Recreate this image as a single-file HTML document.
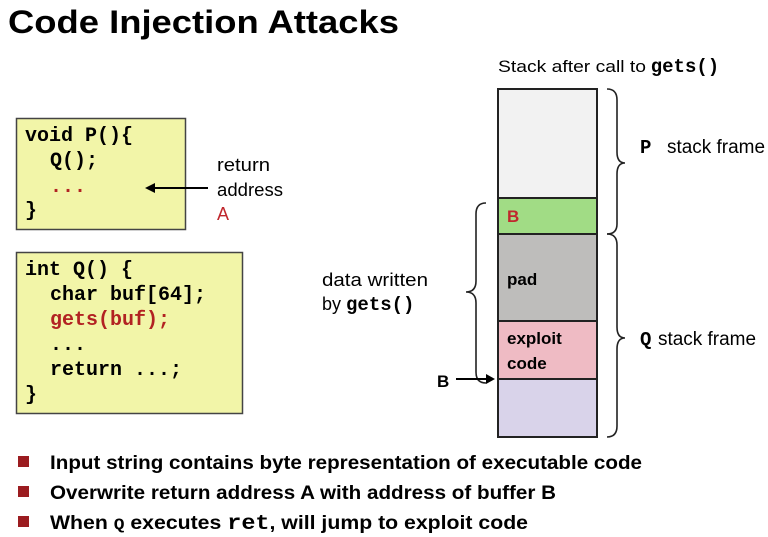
<!DOCTYPE html>
<html><head><meta charset="utf-8"><style>html,body{margin:0;padding:0;background:#fff}svg{display:block}</style></head>
<body>
<svg width="768" height="537" viewBox="0 0 768 537" xmlns="http://www.w3.org/2000/svg" font-family="Liberation Sans, sans-serif">
<text x="8" y="33" font-size="32" font-weight="bold" textLength="391" lengthAdjust="spacingAndGlyphs">Code Injection Attacks</text>

<rect x="16.5" y="118.5" width="169" height="111" fill="#f2f5a8" stroke="#444" stroke-width="1.5"/>
<g font-family="Liberation Mono, monospace" font-weight="bold" font-size="20">
<text x="25" y="141">void P(){</text>
<text x="50" y="166">Q();</text>
<text x="50" y="192" fill="#b22222">...</text>
<text x="25" y="216">}</text>
</g>
<rect x="16.5" y="252.5" width="226" height="161" fill="#f2f5a8" stroke="#444" stroke-width="1.5"/>
<g font-family="Liberation Mono, monospace" font-weight="bold" font-size="20">
<text x="25" y="275">int Q() {</text>
<text x="50" y="300">char buf[64];</text>
<text x="50" y="325" fill="#b22222">gets(buf);</text>
<text x="50" y="350">...</text>
<text x="50" y="375">return ...;</text>
<text x="25" y="400">}</text>
</g>
<line x1="208" y1="188" x2="152" y2="188" stroke="#000" stroke-width="2"/>
<polygon points="145,188 155,183 155,193" fill="#000"/>
<g font-size="18">
<text x="217" y="171" textLength="53" lengthAdjust="spacingAndGlyphs">return</text>
<text x="217" y="196" textLength="66" lengthAdjust="spacingAndGlyphs">address</text>
<text x="217" y="220" fill="#c0272d">A</text>
</g>

<text x="498" y="72" font-size="17"><tspan textLength="148" lengthAdjust="spacingAndGlyphs">Stack after call to</tspan> <tspan font-family="Liberation Mono, monospace" font-weight="bold" font-size="19">gets()</tspan></text>
<g stroke="#222" stroke-width="2">
<rect x="498" y="89" width="99" height="109" fill="#f2f2f2"/>
<rect x="498" y="198" width="99" height="36" fill="#a1dc85"/>
<rect x="498" y="234" width="99" height="87" fill="#bebdbb"/>
<rect x="498" y="321" width="99" height="58" fill="#efbbc4"/>
<rect x="498" y="379" width="99" height="58" fill="#d9d3ea"/>
</g>
<g font-weight="bold" font-size="17">
<text x="507" y="222" fill="#c0272d">B</text>
<text x="507" y="285">pad</text>
<text x="507" y="344">exploit</text>
<text x="507" y="369">code</text>
</g>

<g fill="none" stroke="#222" stroke-width="1.6">
<path d="M607,89 Q617,89 617,100 L617,152 Q617,163 625,163 Q617,163 617,174 L617,224 Q617,234 607,234"/>
<path d="M607,234 Q617,234 617,245 L617,327 Q617,338 625,338 Q617,338 617,349 L617,426 Q617,437 607,437"/>
<path d="M486,203 Q476,203 476,214 L476,281 Q476,292 466,292 Q476,292 476,303 L476,372 Q476,383 486,383"/>
</g>
<text x="640" y="153" font-size="19" font-family="Liberation Mono, monospace" font-weight="bold">P</text>
<text x="667" y="153" font-size="19" textLength="98" lengthAdjust="spacingAndGlyphs">stack frame</text>
<text x="640" y="345" font-size="19" font-family="Liberation Mono, monospace" font-weight="bold">Q</text>
<text x="658" y="345" font-size="19" textLength="98" lengthAdjust="spacingAndGlyphs">stack frame</text>
<text x="322" y="286" font-size="18" textLength="106" lengthAdjust="spacingAndGlyphs">data written</text>
<text x="322" y="310" font-size="18">by <tspan font-family="Liberation Mono, monospace" font-weight="bold" font-size="19">gets()</tspan></text>
<text x="437" y="387" font-size="17" font-weight="bold">B</text>
<line x1="456" y1="379" x2="488" y2="379" stroke="#000" stroke-width="2"/>
<polygon points="495,379 486,374 486,384" fill="#000"/>

<g fill="#9b1c20">
<rect x="18" y="456" width="11" height="11"/>
<rect x="18" y="486" width="11" height="11"/>
<rect x="18" y="516" width="11" height="11"/>
</g>
<g font-size="19" font-weight="bold">
<text x="50" y="469" textLength="592" lengthAdjust="spacingAndGlyphs">Input string contains byte representation of executable code</text>
<text x="50" y="499" textLength="506" lengthAdjust="spacingAndGlyphs">Overwrite return address A with address of buffer B</text>
<text x="50" y="529" textLength="478" lengthAdjust="spacingAndGlyphs">When <tspan font-family="Liberation Mono, monospace" font-size="16">Q</tspan> executes  <tspan font-family="Liberation Mono, monospace" font-size="21">ret</tspan>, will jump to exploit code</text>
</g>
</svg>
</body></html>
